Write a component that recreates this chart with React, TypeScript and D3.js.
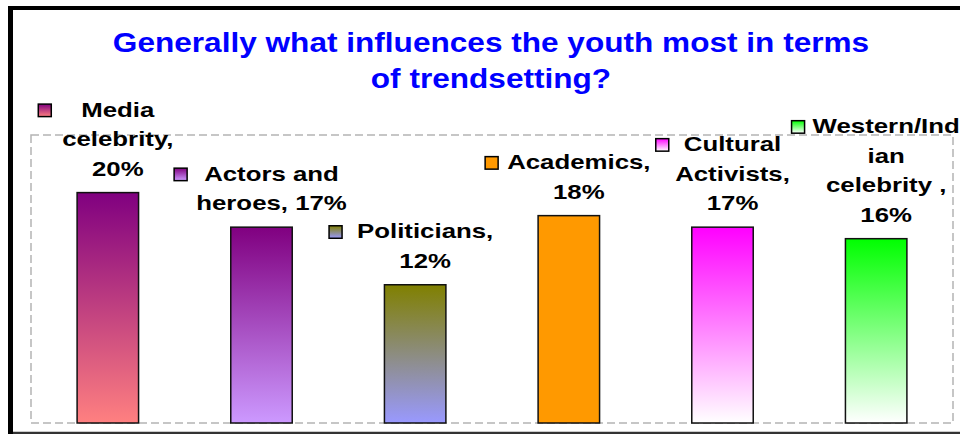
import React from "react";
import * as d3 from "d3";

const categories = [
  "Media celebrity",
  "Actors and heroes",
  "Politicians",
  "Academics",
  "Cultural Activists",
  "Western/Indian celebrity ",
];
const values = [20, 17, 12, 18, 17, 16];
// label text lines (value appended to last line / as own line)
const labelLines: string[][] = [
  ["Media", "celebrity,", "{v}%"],
  ["Actors and", "heroes, {v}%"],
  ["Politicians,", "{v}%"],
  ["Academics,", "{v}%"],
  ["Cultural", "Activists,", "{v}%"],
  ["Western/Ind", "ian", "celebrity ,", "{v}%"],
];
const titleLines = ["Generally what influences the youth most in terms", "of trendsetting?"];
const yDomain = [0, 25];

const gradTop = ["#800080", "#800080", "#808000", "#FF9900", "#FF00FF", "#00FF00"];
const gradBottom = ["#FF8080", "#CC99FF", "#9999FF", "#FF9900", "#FFFFFF", "#FFFFFF"];
const keyGaps = [30, 17, 15, 9, 15, 8];

const W = 960;
const H = 434;
const FONT = "'Liberation Sans', Arial, sans-serif";
const LABEL_SIZE = 20;
const LABEL_SX = 1.29;
const TITLE_SIZE = 27;
const TITLE_SX = 1.17;

let ctx: CanvasRenderingContext2D | null = null;
function measure(text: string, size: number) {
  if (!ctx) ctx = document.createElement("canvas").getContext("2d");
  if (!ctx) return text.length * size * 0.6;
  ctx.font = `bold ${size}px 'Liberation Sans', Arial, sans-serif`;
  return ctx.measureText(text).width;
}

export default function App() {
  const plot = { left: 31, right: 953, top: 135, bottom: 423 };
  const x = d3
    .scaleBand<string>()
    .domain(categories)
    .range([plot.left, plot.right])
    .paddingInner(0.6)
    .paddingOuter(0.3);
  const y = d3.scaleLinear().domain(yDomain).range([plot.bottom, plot.top]);
  const bw = x.bandwidth();
  const lineH = 29.5;

  return (
    <svg
      width={W}
      height={H}
      style={{ position: "absolute", left: 0, top: 0 }}
      fontFamily={FONT}
    >
      <defs>
        {categories.map((c, i) => (
          <linearGradient key={c} id={`g${i}`} x1="0" y1="0" x2="0" y2="1">
            <stop offset="0" stopColor={gradTop[i]} />
            <stop offset="1" stopColor={gradBottom[i]} />
          </linearGradient>
        ))}
      </defs>
      <rect x={0} y={0} width={W} height={H} fill="#fff" />
      {/* outer frame */}
      <line x1={10.5} x2={10.5} y1={6} y2={H} stroke="#000" strokeWidth={5} />
      <line x1={8} x2={W} y1={8} y2={8} stroke="#000" strokeWidth={4} />
      <line x1={13} x2={W} y1={433} y2={433} stroke="#333" strokeWidth={2.5} />
      {/* plot area */}
      <rect
        x={plot.left}
        y={plot.top}
        width={plot.right - plot.left}
        height={plot.bottom - plot.top}
        fill="none"
        stroke="#b4b4b4"
        strokeWidth={1.5}
        strokeDasharray="8 4"
      />
      {/* title */}
      {titleLines.map((t, i) => (
        <g key={t} transform={`translate(491, ${52 + i * 36}) scale(${TITLE_SX},1)`}>
          <text textAnchor="middle" fontSize={TITLE_SIZE} fontWeight="bold" fill="#0000FF">
            {t}
          </text>
        </g>
      ))}
      {/* bars */}
      {categories.map((c, i) => (
        <rect
          key={c}
          x={x(c)}
          y={y(values[i])}
          width={bw}
          height={y(0) - y(values[i])}
          fill={`url(#g${i})`}
          stroke="#111"
          strokeWidth={1.5}
        />
      ))}
      {/* labels */}
      {categories.map((c, i) => {
        const cx = (x(c) as number) + bw / 2 + 10;
        const lines = labelLines[i].map((l) => l.replace("{v}", String(values[i])));
        const lastBase = y(values[i]) - 17;
        const firstBase = lastBase - (lines.length - 1) * lineH;
        const w0 = measure(lines[0], LABEL_SIZE) * LABEL_SX;
        const keyRight = cx - w0 / 2 - keyGaps[i];
        return (
          <g key={c}>
            <rect
              x={keyRight - 13}
              y={firstBase - 12.5}
              width={13}
              height={12.5}
              fill={`url(#g${i})`}
              stroke="#000"
              strokeWidth={1.5}
            />
            {lines.map((l, j) => (
              <g key={j} transform={`translate(${cx}, ${firstBase + j * lineH}) scale(${LABEL_SX},1)`}>
                <text textAnchor="middle" fontSize={LABEL_SIZE} fontWeight="bold" fill="#000">
                  {l}
                </text>
              </g>
            ))}
          </g>
        );
      })}
    </svg>
  );
}
